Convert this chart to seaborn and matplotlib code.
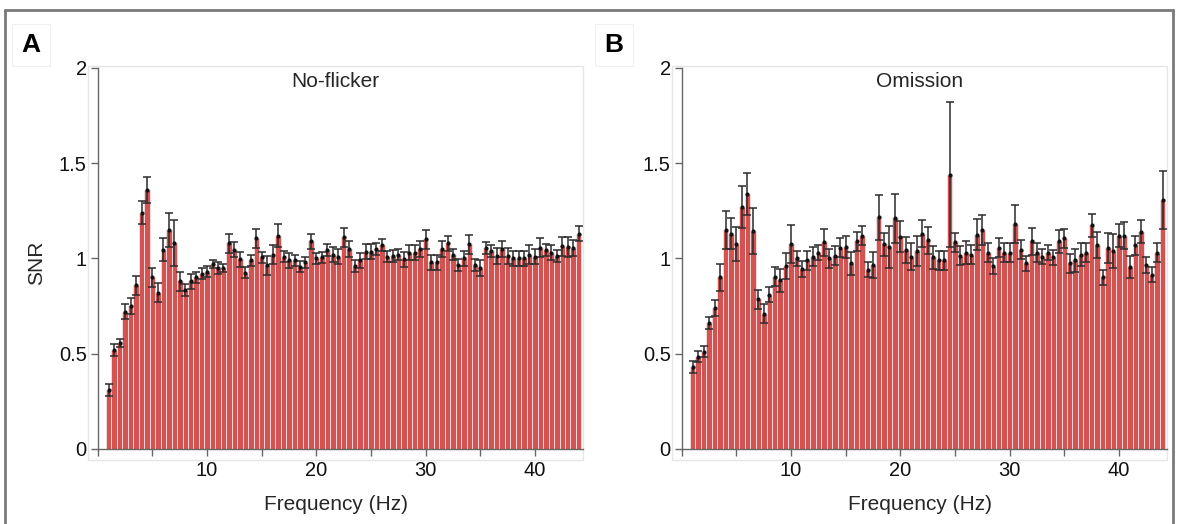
import numpy as np
import pandas as pd
import matplotlib
matplotlib.use("Agg")
import matplotlib.pyplot as plt
import seaborn as sns
from matplotlib.patches import Rectangle
from matplotlib.lines import Line2D
from matplotlib.ticker import MultipleLocator

# frequency bins, 1 to 44 Hz in 0.5 Hz steps
freqs = [1 + 0.5 * i for i in range(87)]

snr_noflicker = [
    0.31, 0.52, 0.555, 0.72, 0.75, 0.86, 1.24, 1.36, 0.90, 0.82,
    1.045, 1.15, 1.08, 0.88, 0.835, 0.88, 0.90, 0.92, 0.93, 0.97,
    0.95, 0.95, 1.08, 1.045, 0.995, 0.925, 0.99, 1.105, 1.005, 0.965,
    1.02, 1.12, 1.01, 0.99, 0.99, 0.957, 0.98, 1.09, 1.00, 1.005,
    1.045, 1.02, 1.01, 1.11, 1.05, 0.96, 0.99, 1.035, 1.035, 1.05,
    1.07, 1.01, 1.013, 1.02, 0.995, 1.03, 1.03, 1.05, 1.10, 0.98,
    0.98, 1.05, 1.08, 1.02, 0.965, 1.00, 1.075, 0.965, 0.95, 1.055,
    1.04, 1.013, 1.05, 1.013, 1.00, 1.00, 1.00, 1.02, 1.01, 1.055,
    1.045, 1.03, 1.013, 1.065, 1.06, 1.055, 1.13,
]
err_noflicker = [
    0.03, 0.03, 0.02, 0.04, 0.04, 0.05, 0.06, 0.07, 0.05, 0.05,
    0.06, 0.09, 0.12, 0.05, 0.03, 0.04, 0.03, 0.03, 0.03, 0.02,
    0.03, 0.02, 0.05, 0.04, 0.04, 0.03, 0.03, 0.05, 0.03, 0.05,
    0.05, 0.06, 0.03, 0.04, 0.03, 0.03, 0.03, 0.04, 0.03, 0.03,
    0.03, 0.04, 0.04, 0.05, 0.04, 0.03, 0.04, 0.04, 0.04, 0.03,
    0.03, 0.03, 0.03, 0.03, 0.04, 0.04, 0.04, 0.04, 0.05, 0.04,
    0.04, 0.04, 0.04, 0.03, 0.03, 0.04, 0.05, 0.03, 0.04, 0.03,
    0.03, 0.04, 0.04, 0.04, 0.04, 0.04, 0.04, 0.05, 0.04, 0.05,
    0.03, 0.04, 0.03, 0.05, 0.05, 0.04, 0.04,
]

snr_omission = [
    0.43, 0.485, 0.51, 0.66, 0.74, 0.90, 1.15, 1.13, 1.075, 1.27,
    1.34, 1.145, 0.785, 0.71, 0.81, 0.905, 0.885, 0.96, 1.075, 1.00,
    0.945, 0.99, 1.01, 1.03, 1.085, 1.00, 1.013, 1.055, 1.06, 0.975,
    1.09, 1.12, 0.94, 0.965, 1.215, 1.075, 1.06, 1.21, 1.115, 1.045,
    1.01, 1.04, 1.13, 1.095, 1.005, 0.99, 0.99, 1.44, 1.085, 1.013,
    1.03, 1.02, 1.125, 1.15, 1.03, 0.96, 1.055, 1.03, 1.03, 1.18,
    1.045, 0.975, 1.09, 1.03, 1.01, 1.03, 1.005, 1.09, 1.105, 0.975,
    0.99, 1.02, 1.03, 1.175, 1.07, 0.90, 1.055, 1.04, 1.12, 1.12,
    0.955, 1.07, 1.14, 0.965, 0.915, 1.03, 1.307,
]
err_omission = [
    0.03, 0.03, 0.03, 0.03, 0.04, 0.07, 0.10, 0.08, 0.09, 0.11,
    0.11, 0.12, 0.05, 0.05, 0.04, 0.05, 0.06, 0.07, 0.10, 0.04,
    0.04, 0.05, 0.05, 0.04, 0.07, 0.05, 0.05, 0.05, 0.06, 0.06,
    0.05, 0.05, 0.04, 0.07, 0.12, 0.06, 0.11, 0.13, 0.08, 0.07,
    0.07, 0.08, 0.07, 0.07, 0.06, 0.05, 0.05, 0.38, 0.05, 0.05,
    0.06, 0.05, 0.08, 0.08, 0.05, 0.04, 0.05, 0.05, 0.05, 0.10,
    0.05, 0.04, 0.07, 0.05, 0.04, 0.04, 0.04, 0.06, 0.05, 0.05,
    0.06, 0.06, 0.05, 0.06, 0.07, 0.04, 0.08, 0.09, 0.06, 0.07,
    0.06, 0.05, 0.06, 0.04, 0.04, 0.05, 0.15,
]

panels = [
    ("A", "No-flicker", snr_noflicker, err_noflicker),
    ("B", "Omission", snr_omission, err_omission),
]

sns.set_theme(style="white")
plt.rcParams["font.family"] = ["Liberation Sans", "DejaVu Sans"]

fig = plt.figure(figsize=(11.78, 5.24), dpi=100)

W, H = 1178, 524
ax_lefts = [88, 672]
ax_w = 495
ax_bottom = 460
ax_top = 66
letter_x = [31, 614]

bar_color = "#d35252"
frame_color = "#e6e6e6"

for i, (letter, title, vals, errs) in enumerate(panels):
    ax = fig.add_axes([ax_lefts[i] / W, (H - ax_bottom) / H,
                       ax_w / W, (ax_bottom - ax_top) / H])
    df = pd.DataFrame({"freq": freqs, "snr": vals})
    sns.barplot(data=df, x="freq", y="snr", native_scale=True,
                color=bar_color, saturation=1, width=1.0,
                edgecolor="#f4dada", linewidth=0.7, ax=ax, zorder=2)
    ax.errorbar(freqs, vals, yerr=errs, fmt="o", ms=2, color="#111111",
                ecolor="#2b2b2b", elinewidth=1.1, capsize=2.8,
                capthick=1.1, zorder=3)

    ax.set_xlim(-0.9, 44.4)
    ax.set_ylim(-0.058, 2.01)

    # light outer frame
    for s in ["top", "right"]:
        ax.spines[s].set_visible(False)
    ax.add_patch(Rectangle((0, 0), 1, 1, transform=ax.transAxes,
                           fill=False, edgecolor=frame_color, lw=1.0,
                           clip_on=False, zorder=0))
    # dark axis lines
    ax.spines["left"].set_position(("data", 0))
    ax.spines["left"].set_bounds(0, 2)
    ax.spines["bottom"].set_position(("data", 0))
    ax.spines["bottom"].set_bounds(0, 44.4)
    for s in ["left", "bottom"]:
        ax.spines[s].set_color("#666666")
        ax.spines[s].set_linewidth(1.0)

    ax.set_yticks([0, 0.5, 1, 1.5, 2])
    ax.set_yticklabels(["0", "0.5", "1", "1.5", "2"])
    ax.xaxis.set_major_locator(MultipleLocator(10))
    ax.xaxis.set_minor_locator(MultipleLocator(5))
    ax.set_xticks([10, 20, 30, 40])
    ax.set_xticklabels(["10", "20", "30", "40"])
    ax.tick_params(axis="both", which="both", direction="out", length=5,
                   width=1.0, color="#666666", labelsize=14.5,
                   labelcolor="#111111", pad=3,
                   bottom=True, left=True)
    ax.tick_params(axis="x", pad=4)
    ax.grid(False)

    ax.set_xlabel("Frequency (Hz)", fontsize=15)
    ax.xaxis.set_label_coords(0.5, -0.09)
    if i == 0:
        ax.set_ylabel("SNR", fontsize=15)
        ax.yaxis.set_label_coords(-0.085, 0.5)
    else:
        ax.set_ylabel("")
    ax.text(0.5, 0.985, title, transform=ax.transAxes, ha="center",
            va="top", fontsize=15)

    fig.text(letter_x[i] / W, (H - 45) / H, letter, fontsize=19,
             fontweight="bold", ha="center", va="center", color="black",
             bbox=dict(boxstyle="square,pad=0.35", fc="white",
                       ec="#f0f0f0", lw=0.8))

# outer border of the figure panel
border = "#7a7a7a"
fig.add_artist(Line2D([5 / W, 5 / W], [0, (H - 10) / H], color=border, lw=2))
fig.add_artist(Line2D([5 / W, 1173 / W], [(H - 10) / H, (H - 10) / H],
                      color=border, lw=2))
fig.add_artist(Line2D([1173 / W, 1173 / W], [0, (H - 10) / H],
                      color=border, lw=2))

fig.savefig("out.png", dpi=100)
